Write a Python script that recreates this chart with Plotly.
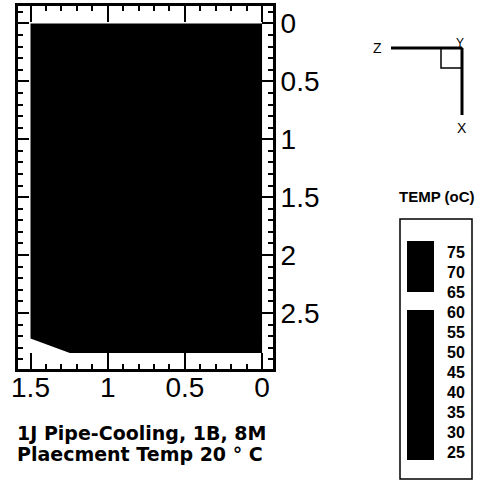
import plotly.graph_objects as go

# ---- data ----
# black (filled) temperature region of the section, in section coordinates
region_x = [0.0, 1.5, 1.5, 1.245, 0.0]
region_y = [0.0, 0.0, 2.72, 2.845, 2.845]

x_tickvals = [1.5, 1.0, 0.5, 0.0]
x_ticktext = ["1.5", "1", "0.5", "0"]
y_tickvals = [0, 0.5, 1, 1.5, 2, 2.5]
y_ticktext = ["0", "0.5", "1", "1.5", "2", "2.5"]

# legend (colour key) bands, temperature in oC
band_low = [23.0, 25, 30, 35, 40, 45, 50, 55, 60.5, 65, 70, 75]
band_high = [25, 30, 35, 40, 45, 50, 55, 60.5, 65, 70, 75, 77.75]
band_color = ["black"] * 8 + ["white"] + ["black"] * 3
legend_levels = [75, 70, 65, 60, 55, 50, 45, 40, 35, 30, 25]

caption_1 = "1J Pipe-Cooling, 1B, 8M"
caption_2 = "Plaecment Temp 20 ° C"
legend_title = "TEMP (oC)"

W, H = 494, 482
FONT = "Liberation Sans"
BOLD = "DejaVu Sans"


def px(x):
    return x / W


def py(y):
    return 1 - y / H


fig = go.Figure()

fig.add_trace(go.Scatter(
    x=region_x, y=region_y, mode="lines", fill="toself",
    fillcolor="black", line=dict(width=0, color="black"),
    hoverinfo="skip", showlegend=False, xaxis="x", yaxis="y"))

fig.add_trace(go.Bar(
    x=[0] * len(band_low),
    y=[h - l for l, h in zip(band_low, band_high)],
    base=band_low, width=1, marker=dict(color=band_color, line=dict(width=0)),
    showlegend=False, xaxis="x2", yaxis="y2", hoverinfo="skip"))

axis_common = dict(showgrid=False, zeroline=False, showline=True,
                   linecolor="black", linewidth=3, mirror="ticks",
                   ticks="inside", tickcolor="black", tickwidth=2,
                   automargin=False,
                   tickfont=dict(family=FONT, size=28, color="black"))

fig.update_layout(
    width=W, height=H, margin=dict(l=0, r=0, t=0, b=0, autoexpand=False),
    paper_bgcolor="white", plot_bgcolor="white", bargap=0,
    xaxis=dict(domain=[px(18), px(273)], range=[1.581, -0.071],
               tickvals=x_tickvals, ticktext=x_ticktext, ticklen=16,
               ticklabelstandoff=-9,
               minor=dict(dtick=0.1, tick0=0, ticks="inside", ticklen=5,
                          tickcolor="black", tickwidth=1.5),
               **axis_common),
    yaxis=dict(domain=[py(369), py(6)], range=[2.984, -0.151], side="right",
               tickvals=y_tickvals, ticktext=y_ticktext, ticklen=11,
               ticklabelstandoff=-1,
               minor=dict(dtick=0.1, tick0=0, ticks="inside", ticklen=5,
                          tickcolor="black", tickwidth=1.5),
               **axis_common),
    xaxis2=dict(domain=[px(407), px(434)], range=[-0.5, 0.5], visible=False,
                anchor="y2", fixedrange=True, automargin=False),
    yaxis2=dict(domain=[py(460), py(241)], range=[23.0, 77.75], anchor="x2",
                side="right", showgrid=False, zeroline=False, showline=False,
                ticks="", tickvals=legend_levels, automargin=False,
                ticktext=[str(v) for v in legend_levels],
                ticklabelstandoff=12,
                tickfont=dict(family=FONT, size=16, color="black",
                              weight="bold")),
)

# colour key frame
fig.add_shape(type="rect", xref="paper", yref="paper",
              x0=px(400), x1=px(472), y0=py(479), y1=py(219),
              line=dict(color="black", width=1.5))

# axes triad
fig.add_shape(type="line", xref="paper", yref="paper",
              x0=px(391), x1=px(462), y0=py(48), y1=py(48),
              line=dict(color="black", width=3))
fig.add_shape(type="line", xref="paper", yref="paper",
              x0=px(462), x1=px(462), y0=py(48), y1=py(115),
              line=dict(color="black", width=3))
fig.add_shape(type="rect", xref="paper", yref="paper",
              x0=px(441), x1=px(462), y0=py(68), y1=py(48),
              line=dict(color="black", width=1.5))

texts = [
    ("Z", 377, 48, 14, "normal", FONT, "center"),
    ("Y", 460, 43, 12, "normal", FONT, "center"),
    ("X", 462, 128, 14, "normal", FONT, "center"),
    (legend_title, 437, 196, 15, "bold", FONT, "center"),
    (caption_1, 15, 433, 19, "bold", BOLD, "left"),
    (caption_2, 15, 454, 19, "bold", BOLD, "left"),
]
for t, x, y, s, w, f, a in texts:
    fig.add_annotation(text=t, xref="paper", yref="paper", x=px(x), y=py(y),
                       xanchor=a, yanchor="middle", showarrow=False,
                       font=dict(family=f, size=s, color="black", weight=w))

fig.write_html("out.html")
